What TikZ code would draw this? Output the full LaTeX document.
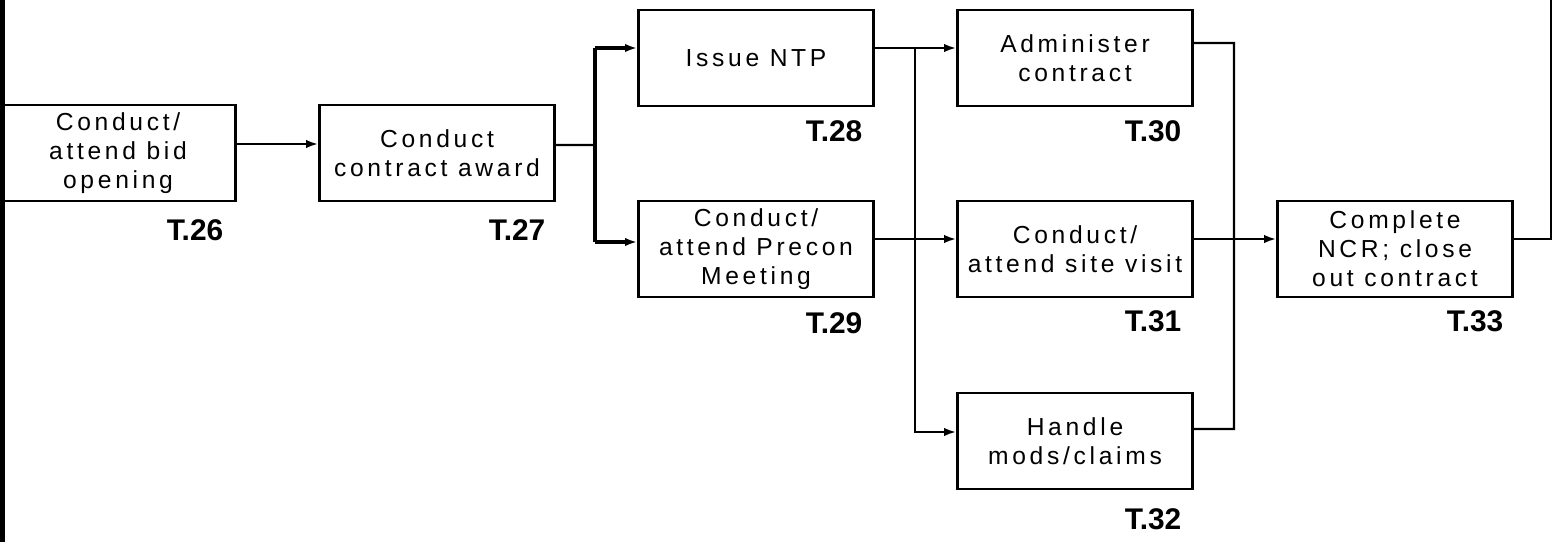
\documentclass[tikz,border=0pt]{standalone}
\usepackage{fontspec}
\setmainfont{Liberation Sans}
\newfontfamily\boxfont[LetterSpace=15]{Liberation Sans}
\usetikzlibrary{arrows.meta}

\tikzset{
  task/.style={draw, line width=0.8pt, minimum width=2.35cm, minimum height=0.96cm,
    inner sep=0pt, align=center, font=\boxfont\fontsize{7}{8.2}\selectfont},
  tag/.style={font=\bfseries\fontsize{8.5}{10}\selectfont, inner sep=0pt, anchor=east},
  link/.style={line width=0.6pt},
  flow/.style={link, -{Latex[length=3.4pt,width=2.4pt]}},
  bus/.style={line width=1.1pt},
}

\begin{document}
\begin{tikzpicture}[x=0.01cm,y=-0.01cm]
\useasboundingbox (0,0) rectangle (1555,542);
\fill (0,0) rectangle (5,542);

% tasks
\node[task] (t26) at (118,153) {Conduct/\\attend bid\\opening};
\node[task] (t27) at (437,153) {Conduct\\contract award};
\node[task] (t28) at (756,58) {Issue NTP};
\node[task] (t29) at (756,249) {Conduct/\\attend Precon\\Meeting};
\node[task] (t30) at (1075,58) {Administer\\contract};
\node[task] (t31) at (1075,249) {Conduct/\\attend site visit};
\node[task] (t32) at (1075,441) {Handle\\mods/claims};
\node[task] (t33) at (1395,249) {Complete\\NCR; close\\out contract};

% task numbers
\node[tag] (l26) at ([xshift=-0.13cm,yshift=-0.28cm]t26.south east) {T.26};
\node[tag] (l27) at ([xshift=-0.10cm,yshift=-0.28cm]t27.south east) {T.27};
\node[tag] (l28) at ([xshift=-0.12cm,yshift=-0.24cm]t28.south east) {T.28};
\node[tag] (l29) at ([xshift=-0.12cm,yshift=-0.25cm]t29.south east) {T.29};
\node[tag] (l30) at ([xshift=-0.12cm,yshift=-0.24cm]t30.south east) {T.30};
\node[tag] (l31) at ([xshift=-0.12cm,yshift=-0.23cm]t31.south east) {T.31};
\node[tag] (l32) at ([xshift=-0.12cm,yshift=-0.29cm]t32.south east) {T.32};
\node[tag] (l33) at ([xshift=-0.10cm,yshift=-0.23cm]t33.south east) {T.33};

% ports
\coordinate (in28) at ([yshift=0.10cm]t28.west);
\coordinate (in29) at ([yshift=0.07cm]t29.west);
\coordinate (in32) at ([yshift=0.09cm]t32.west);
\coordinate (out30) at ([yshift=0.15cm]t30.east);
\coordinate (out32) at ([yshift=0.12cm]t32.east);
\coordinate (fork) at (595,145);
\coordinate (split) at (915,48);
\coordinate (merge) at (1234,429);
\coordinate (exit) at (1551,0);

% connectors
\draw[flow] ([yshift=0.09cm]t26.east) -- ([yshift=0.09cm]t27.west);
\draw[link] ([yshift=0.08cm]t27.east) -- (fork);
\draw[bus] (in28 -| fork) -- (in29 -| fork);
\draw[flow, line width=0.9pt] (in28 -| fork) -- (in28);
\draw[flow, line width=0.9pt] (in29 -| fork) -- (in29);
\draw[flow] ([yshift=0.10cm]t28.east) -- ([yshift=0.10cm]t30.west);
\draw[flow] (split) |- (in32);
\draw[flow] ([yshift=0.10cm]t29.east) -- ([yshift=0.10cm]t31.west);
\draw[link] (out30) -| (merge) -- (out32);
\draw[flow] ([yshift=0.10cm]t31.east) -- ([yshift=0.10cm]t33.west);
\draw[link] ([yshift=0.10cm]t33.east) -| (exit);
\end{tikzpicture}
\end{document}
